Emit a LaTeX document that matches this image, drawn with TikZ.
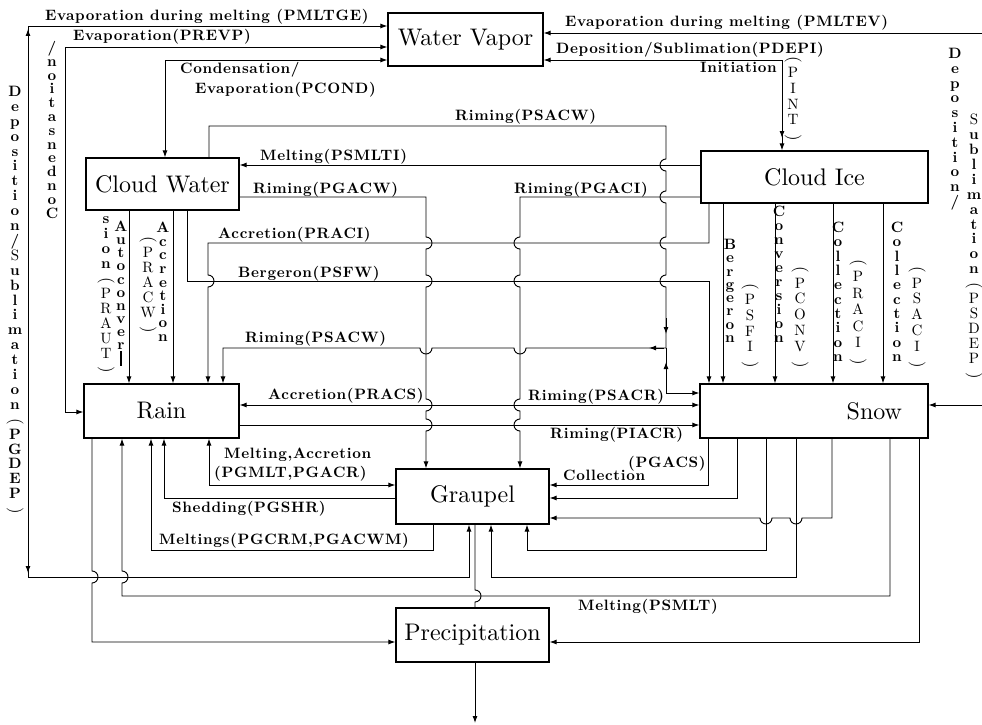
\documentclass[tikz,border=0pt]{standalone}
\usepackage{fontspec}
\usepackage{graphicx}
\usetikzlibrary{arrows.meta}
\newfontfamily\lblfam{lmroman10-bold.otf}[LetterSpace=4.5]
\newfontfamily\vfam{lmroman10-bold.otf}
\newfontfamily\boxfam{lmroman10-regular.otf}
\newcommand\vlp{\raisebox{6pt}{\rotatebox{-90}{\boxfam\fontsize{17}{17}\selectfont(}}}
\newcommand\vrp{\raisebox{6pt}{\rotatebox{-90}{\boxfam\fontsize{17}{17}\selectfont)}}}
\newcommand\rg[1]{{\boxfam #1}}
\begin{document}
\begin{tikzpicture}[x=1pt,y=-1pt,
  >={Latex[length=7pt,width=5pt]},
  ln/.style={line width=0.95pt},
  box/.style={draw,line width=1.2pt,inner sep=0pt,font=\boxfam\fontsize{24}{26}\selectfont},
  lbl/.style={inner sep=0pt,anchor=base west,font=\lblfam\fontsize{15}{17}\selectfont},
  vlab/.style={inner sep=0pt,anchor=north,align=center,font=\vfam\fontsize{15}{#1}\selectfont},
  vlabr/.style={inner sep=0pt,anchor=north,align=center,font=\boxfam\fontsize{15}{#1}\selectfont},
]
\fill[white] (0,0) rectangle (982,725);
\useasboundingbox (0,0) rectangle (982,725);

% boxes
\node[box,minimum width=155,minimum height=53] (wv) at (465.5,39.5) {Water Vapor};
\node[box,minimum width=153,minimum height=52] (cw) at (162.5,184) {Cloud Water};
\node[box,minimum width=227,minimum height=52] (ci) at (814.5,177) {Cloud Ice};
\node[box,minimum width=155,minimum height=54] (rain) at (161.5,411) {Rain};
\node[box,minimum width=228,minimum height=54,text width=176,align=right] (snow) at (814,411) {Snow};
\node[box,minimum width=153,minimum height=55] (graupel) at (472.5,496.5) {Graupel};
\node[box,minimum width=153,minimum height=54] (precip) at (472.5,635) {Precipitation};

% free ends
\coordinate (e1) at (982,33);
\coordinate (e2) at (982,405);
\coordinate (e3) at (475,723);
\coordinate (jn) at (666,348);

% ---- connectors ----
% PMLTGE / PGDEP
\draw[ln,<->] (wv.west|-0,26) -- (28,26) -- (28,577) -- (469,577) -- (graupel.south-|469,0);
\draw[ln,->] (28,45) -- (28,29);
\draw[ln,->] (28,555) -- (28,573);
% PREVP
\draw[ln,<->] (wv.west|-0,47) -- (65,47) -- (65,412) -- (rain.west|-0,412);
% PCOND
\draw[ln,<->] (wv.west|-0,60) -- (165,60) -- (cw.north-|165,0);
% PMLTEV
\draw[ln,->] (e1) -- (wv.east|-0,33);
% PDEPI / PINT
\draw[ln,<->] (wv.east|-0,60) -- (782,60) -- (ci.north-|782,0);
\draw[ln,->] (782,120) -- (782,138);
% snow right
\draw[ln,->] (e2) -- (snow.east|-0,405);
% PSACW (cloud water -> junction)
\draw[ln] (cw.north-|209,0) -- (209,126) -- (666,126) -- (666,159) arc(-90:-270:6) -- (666,191) arc(-90:-270:6)
  -- (666,237) arc(-90:-270:6) -- (666,275) arc(-90:-270:6) -- (jn);
\draw[ln,->] (666,318) -- (666,334);
% snow -> junction
\draw[ln,<-] (snow.west|-0,393) -- (666,393) -- (jn);
\draw[ln,->] (666,378) -- (666,362);
% junction -> rain
\draw[ln,->] (jn) -- (526,348) arc(0:180:6) -- (432,348) arc(0:180:6) -- (223,348) -- (rain.north-|223,0);
\draw[ln,->] (664,348) -- (649,348);
% PSMLTI
\draw[ln,->] (ci.west|-0,165) -- (cw.east|-0,165);
% PGACW
\draw[ln,->] (cw.east|-0,197) -- (426,197) -- (426,237) arc(-90:90:6) -- (426,275) arc(-90:90:6)
  -- (426,399) arc(-90:90:6) -- (426,419) arc(-90:90:6) -- (graupel.north-|426,0);
% PGACI
\draw[ln,->] (ci.west|-0,197) -- (520,197) -- (520,237) arc(-90:-270:6) -- (520,275) arc(-90:-270:6)
  -- (520,399) arc(-90:-270:6) -- (520,419) arc(-90:-270:6) -- (graupel.north-|520,0);
% PRACI (cloud ice -> rain)
\draw[ln,->] (ci.south-|709,0) -- (709,243) -- (208,243) -- (208,275) arc(-90:90:6) -- (rain.north-|208,0);
% PSFW
\draw[ln,->] (cw.south-|187,0) -- (187,281) -- (709,281) -- (snow.north-|709,0);
% PRAUT, PRACW
\draw[ln,->] (cw.south-|129,0) -- (rain.north-|129,0);
\draw[ln,->] (cw.south-|173,0) -- (rain.north-|173,0);
% cloud ice -> snow
\foreach \xx in {723,775,833,883} \draw[ln,->] (ci.south-|\xx,0) -- (snow.north-|\xx,0);
% PRACS / PSACR
\draw[ln,<->] (rain.east|-0,405) -- (snow.west|-0,405);
% PIACR
\draw[ln,->] (rain.east|-0,425) -- (snow.west|-0,425);
% PGMLT, PGACR
\draw[ln,<->] (rain.south-|209,0) -- (209,485) -- (graupel.west|-0,485);
% PGSHR
\draw[ln,->] (graupel.west|-0,498) -- (164,498) -- (rain.south-|164,0);
% PGCRM
\draw[ln,->] (graupel.south-|433,0) -- (433,550) -- (151,550) -- (rain.south-|151,0);
% PSMLT
\draw[ln,->] (snow.south-|890,0) -- (890,596) -- (122,596) -- (122,583) arc(90:-90:6) -- (rain.south-|122,0);
% rain -> precip
\draw[ln,->] (rain.south-|92,0) -- (92,571) arc(-90:90:6) -- (92,642) -- (precip.west|-0,642);
% snow -> precip
\draw[ln,->] (snow.south-|919,0) -- (919,642) -- (precip.east|-0,642);
% graupel -> precip
\draw[ln] (graupel.south-|475,0) -- (475,590) arc(-90:90:6) -- (precip.north-|475,0);
% precip out
\draw[ln,->] (precip.south-|475,0) -- (e3);
% snow -> graupel
\draw[ln,->] (snow.south-|708,0) -- (708,485) -- (graupel.east|-0,485);
\draw[ln,->] (snow.south-|737,0) -- (737,498) -- (graupel.east|-0,498);
\draw[ln,->] (snow.south-|832,0) -- (832,518) -- (802,518) arc(0:180:6) -- (772,518) arc(0:180:6) -- (graupel.east|-0,518);
\draw[ln,->] (snow.south-|766,0) -- (766,550) -- (527,550) -- (graupel.south-|527,0);
\draw[ln,->] (snow.south-|796,0) -- (796,577) -- (491,577) -- (graupel.south-|491,0);

% ---- horizontal labels ----
\node[lbl] (l1) at (45,21) {Evaporation during melting (PMLTGE)};
\node[lbl] (l2) at (73,41) {Evaporation(PREVP)};
\node[lbl] (l3) at (180,74) {Condensation/};
\node[lbl] (l4) at (195,93) {Evaporation(PCOND)};
\node[lbl] (l5) at (565,27) {Evaporation during melting (PMLTEV)};
\node[lbl] (l6) at (556,53) {Deposition/Sublimation(PDEPI)};
\node[lbl] (l7) at (700,73) {Initiation};
\node[lbl] (l8) at (455,120) {Riming(PSACW)};
\node[lbl] (l9) at (260,160) {Melting(PSMLTI)};
\node[lbl] (l10) at (253,193) {Riming(PGACW)};
\node[lbl] (l11) at (514,193) {Riming(PGACI)};
\node[lbl] (l12) at (218,238) {Accretion(PRACI)};
\node[lbl] (l13) at (238,277) {Bergeron(PSFW)};
\node[lbl] (l14) at (245,342) {Riming(PSACW)};
\node[lbl] (l15) at (268,399) {Accretion(PRACS)};
\node[lbl] (l16) at (528,400) {Riming(PSACR)};
\node[lbl] (l17) at (550,438) {Riming(PIACR)};
\node[lbl] (l18) at (224,458) {Melting,Accretion};
\node[lbl] (l19) at (214,477) {(PGMLT,PGACR)};
\node[lbl] (l20) at (172,512) {Shedding(PGSHR)};
\node[lbl] (l21) at (159,544) {Meltings(PGCRM,PGACWM)};
\node[lbl] (l22) at (628,467) {(PGACS)};
\node[lbl] (l23) at (563,480) {Collection};
\node[lbl] (l24) at (578,610) {Melting(PSMLT)};

% ---- vertical labels ----
\node[vlab=14.9] (v1) at (15,86) {D\\e\\p\\o\\s\\i\\t\\i\\o\\n\\/\\\rg{S}\\u\\b\\l\\i\\m\\a\\t\\i\\o\\n\\\vlp\\P\\G\\D\\E\\P\\\vrp};
\node[vlab=13.8] (v2) at (52,41) {/\\n\\o\\i\\t\\a\\s\\n\\e\\d\\n\\o\\C};
\node[vlab=14.9] (v3) at (106,217) {s\\i\\o\\n\\\vlp\\\rg{P}\\\rg{R}\\\rg{A}\\\rg{U}\\\rg{T}\\\vrp};
\node[vlab=13.1] (v4) at (121,221) {A\\u\\t\\o\\c\\o\\n\\v\\e\\r\\\rule{1.2pt}{15pt}};
\node[vlabr=15] (v5) at (148,236) {\vlp\\P\\R\\A\\C\\W\\\vrp};
\node[vlab=13.6] (v6) at (163,222) {A\\c\\c\\r\\e\\t\\i\\o\\n};
\node[vlab=13.3] (v7) at (730,239) {B\\e\\r\\g\\e\\r\\o\\n};
\node[vlabr=15.6] (v8) at (750,283) {\vlp\\P\\S\\F\\I\\\vrp};
\node[vlab=14] (v9) at (779,206) {C\\o\\n\\v\\e\\r\\s\\i\\o\\n};
\node[vlabr=15.8] (v10) at (800,266) {\vlp\\P\\C\\O\\N\\V\\\vrp};
\node[vlab=14.3] (v11) at (838,222) {C\\o\\l\\l\\e\\c\\t\\i\\o\\n};
\node[vlabr=16.5] (v12) at (858,259) {\vlp\\P\\R\\A\\C\\I\\\vrp};
\node[vlab=14.3] (v13) at (897,222) {C\\o\\l\\l\\e\\c\\t\\i\\o\\n};
\node[vlabr=15.8] (v14) at (917,266) {\vlp\\P\\S\\A\\C\\I\\\vrp};
\node[vlab=14.8] (v15) at (955,48) {D\\e\\p\\o\\s\\i\\t\\i\\o\\n\\/};
\node[vlab=14.9] (v16) at (974,114) {\rg{S}\\u\\b\\l\\i\\m\\a\\t\\i\\o\\n\\\vlp\\\rg{P}\\\rg{S}\\\rg{D}\\\rg{E}\\\rg{P}\\\vrp};
\node[vlabr=15.6] (v17) at (793,56) {\vlp\\P\\I\\N\\T\\\vrp};
\end{tikzpicture}
\end{document}
